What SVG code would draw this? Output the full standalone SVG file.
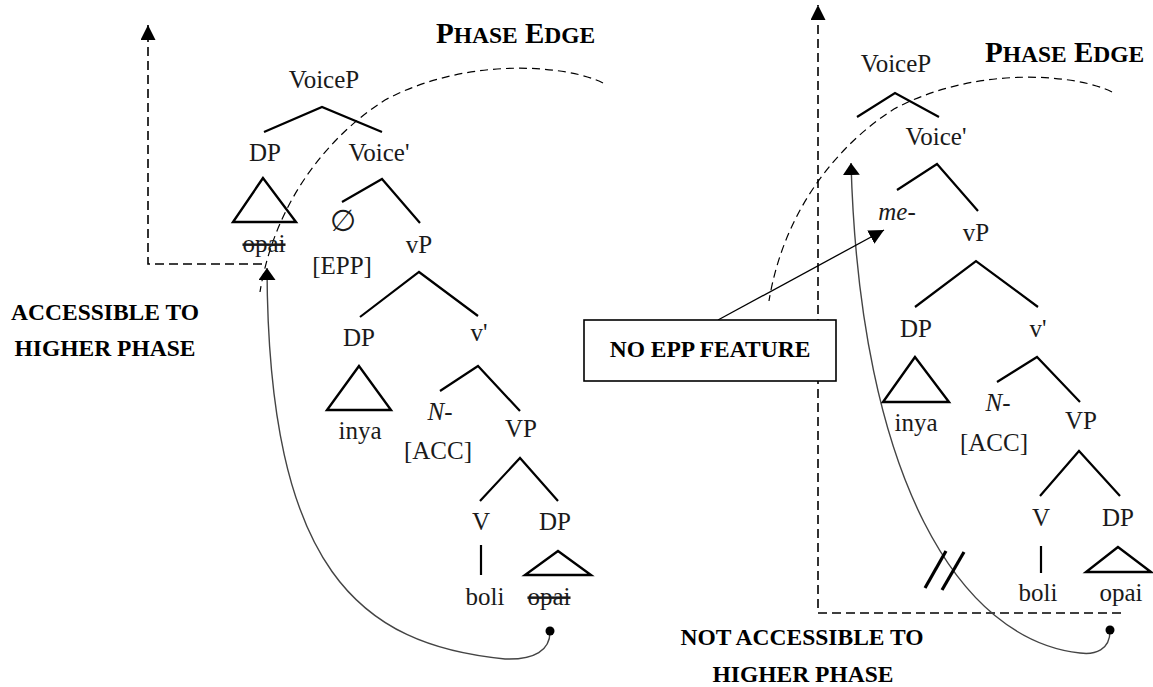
<svg xmlns="http://www.w3.org/2000/svg" width="1153" height="687" viewBox="0 0 1153 687">
<style>
.t{font-family:"Liberation Serif","Times New Roman",serif;font-size:25px;fill:#1a1a1a;text-anchor:middle}
.i{font-style:italic}
.s{text-decoration:line-through}
.b{font-family:"Liberation Serif","Times New Roman",serif;font-weight:bold;font-size:23.5px;fill:#000;text-anchor:middle}
.pe{font-family:"Liberation Serif","Times New Roman",serif;font-weight:bold;font-size:29px;fill:#000}
.sc{font-size:23.5px}
.br{fill:none;stroke:#000;stroke-width:2.2}
.tri{fill:none;stroke:#000;stroke-width:2.4;stroke-linejoin:miter}
.dash{fill:none;stroke:#000;stroke-width:1.6;stroke-dasharray:9 5}
.arc{fill:none;stroke:#000;stroke-width:1.2;stroke-dasharray:8 5}
.mv{fill:none;stroke:#444;stroke-width:1.4}
.ln{fill:none;stroke:#000;stroke-width:1.3}
.box{fill:#fff;stroke:#000;stroke-width:1.6}
.cut{stroke:#000;stroke-width:3.2}
</style>
<defs>
<marker id="ah" viewBox="0 0 10 10" refX="10" refY="5" markerWidth="15" markerHeight="15" markerUnits="userSpaceOnUse" orient="auto"><path d="M0,0 L10,5 L0,10 z" fill="#000"/></marker>
<marker id="ah2" viewBox="0 0 10 10" refX="10" refY="5" markerWidth="12" markerHeight="17" markerUnits="userSpaceOnUse" orient="auto" preserveAspectRatio="none"><path d="M0,0 L10,5 L0,10 z" fill="#000"/></marker>
<path id="arcshape" d="M603,83 C570,66 470,55 385,100 C330,135 275,200 260,292"/>
</defs>

<g id="labels">
<text class="pe" x="436" y="43">P<tspan class="sc">HASE</tspan> E<tspan class="sc">DGE</tspan></text>
<text class="pe" x="985" y="62">P<tspan class="sc">HASE</tspan> E<tspan class="sc">DGE</tspan></text>
<text class="b" x="105" y="320">ACCESSIBLE TO</text>
<text class="b" x="105" y="356">HIGHER PHASE</text>
<text class="b" x="802" y="645">NOT ACCESSIBLE TO</text>
<text class="b" x="803" y="682">HIGHER PHASE</text>
</g>

<g id="connectors">
<polyline class="br" points="264,132 322,107 382,132"/>
<polyline class="br" points="342,202 382,179 420,223"/>
<polyline class="br" points="360,317 419,272 478,316"/>
<polyline class="br" points="440,391 478,366 520,411"/>
<polyline class="br" points="480,501 520,458 558,501"/>
<line class="br" x1="481" y1="545" x2="481" y2="575"/>
<polyline class="br" points="857,117 895,93 939,117"/>
<polyline class="br" points="897,190 937,164 978,211"/>
<polyline class="br" points="915,307 976,261 1038,307"/>
<polyline class="br" points="997,382 1037,357 1080,402"/>
<polyline class="br" points="1040,496 1079,451 1120,496"/>
<line class="br" x1="1041" y1="546" x2="1041" y2="573"/>
<use href="#arcshape" class="arc"/>
<use href="#arcshape" class="arc" transform="translate(509,9)"/>
<path class="dash" d="M262,264 H148 V25" marker-end="url(#ah)"/>
<path class="dash" d="M1121,613 H818 V5" marker-end="url(#ah)"/>
<path class="mv" d="M550,632 C550,650 535,660 505,659 C360,645 268,570 267,268" marker-end="url(#ah2)"/>
<path class="mv" d="M1110,631 C1110,650 1095,655 1080,653 C960,640 860,480 851,163" marker-end="url(#ah2)"/>
<circle cx="550" cy="631" r="4.5" fill="#000"/>
<circle cx="1110" cy="630" r="4.5" fill="#000"/>
<line class="cut" x1="925" y1="588" x2="946" y2="551"/>
<line class="cut" x1="942" y1="590" x2="964" y2="552"/>
<line class="ln" x1="718" y1="320" x2="884" y2="230" marker-end="url(#ah)"/>
</g>

<g id="box-no-epp">
<rect class="box" x="584" y="320" width="252" height="61"/>
<text class="b" x="710" y="357">NO EPP FEATURE</text>
</g>

<g id="L-VoiceP"><text class="t" x="324" y="88">VoiceP</text></g>
<g id="L-DP1"><text class="t" x="265" y="161">DP</text><polygon class="tri" points="263,178 233,222 296,222"/><text class="t s" x="264" y="252">opai</text></g>
<g id="L-Voicebar"><text class="t" x="379" y="161">Voice'</text></g>
<g id="L-null"><text class="t" x="343" y="231" style="font-family:'DejaVu Sans','Liberation Serif',sans-serif;font-size:30px">∅</text><text class="t" x="342" y="274">[EPP]</text></g>
<g id="L-vP"><text class="t" x="419" y="253">vP</text></g>
<g id="L-DP2"><text class="t" x="359" y="346">DP</text><polygon class="tri" points="359,366 327,410 391,410"/><text class="t" x="360" y="439">inya</text></g>
<g id="L-vbar"><text class="t" x="479" y="341">v'</text></g>
<g id="L-N"><text class="t i" x="440" y="420">N-</text><text class="t" x="438" y="459">[ACC]</text></g>
<g id="L-VP"><text class="t" x="521" y="437">VP</text></g>
<g id="L-V"><text class="t" x="481" y="530">V</text><text class="t" x="485" y="605">boli</text></g>
<g id="L-DP3"><text class="t" x="555" y="530">DP</text><polygon class="tri" points="558,551 525,575 591,575"/><text class="t s" x="549" y="605">opai </text></g>

<g id="R-VoiceP"><text class="t" x="896" y="72">VoiceP</text></g>
<g id="R-Voicebar"><text class="t" x="936" y="145">Voice'</text></g>
<g id="R-me"><text class="t i" x="897" y="220">me-</text></g>
<g id="R-vP"><text class="t" x="976" y="241">vP</text></g>
<g id="R-DP2"><text class="t" x="916" y="337">DP</text><polygon class="tri" points="915,357 883,402 949,402"/><text class="t" x="916" y="431">inya</text></g>
<g id="R-vbar"><text class="t" x="1038" y="337">v'</text></g>
<g id="R-N"><text class="t i" x="998" y="411">N-</text><text class="t" x="994" y="451">[ACC]</text></g>
<g id="R-VP"><text class="t" x="1081" y="429">VP</text></g>
<g id="R-V"><text class="t" x="1041" y="526">V</text><text class="t" x="1038" y="601">boli</text></g>
<g id="R-DP3"><text class="t" x="1118" y="526">DP</text><polygon class="tri" points="1118,547 1086,572 1151,572"/><text class="t" x="1121" y="601">opai</text></g>
</svg>
